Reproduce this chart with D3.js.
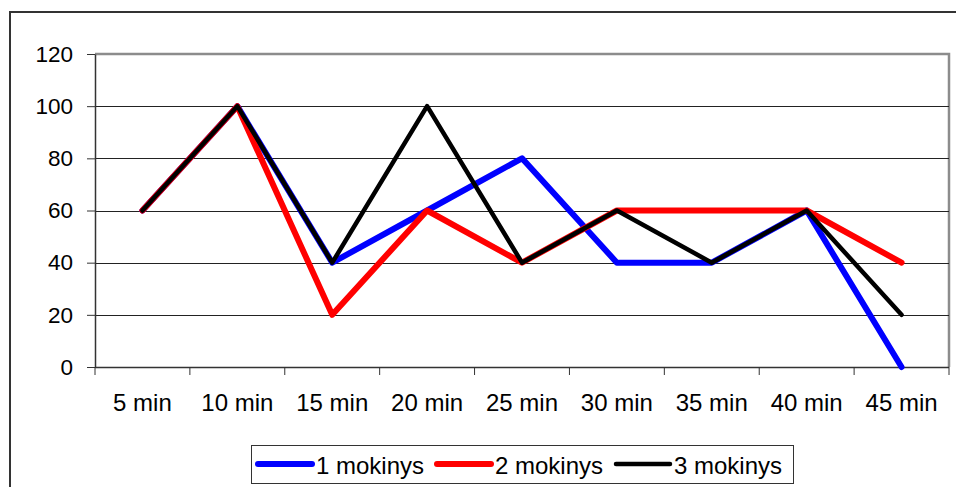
<!DOCTYPE html>
<html>
<head>
<meta charset="utf-8">
<script src="https://cdn.jsdelivr.net/npm/d3@7"></script>
<style>
  html, body { margin: 0; padding: 0; background: #fff; }
  svg { display: block; font-family: "Liberation Sans", Arial, sans-serif; }
</style>
</head>
<body>
<svg id="chart" width="956" height="487"></svg>
<script>
// Categories (time points) and the score of each student
const categories = ["5 min", "10 min", "15 min", "20 min", "25 min", "30 min", "35 min", "40 min", "45 min"];
const student1 = [60, 100, 40, 60, 80, 40, 40, 60, 0];
const student2 = [60, 100, 20, 60, 40, 60, 60, 60, 40];
const student3 = [60, 100, 40, 100, 40, 60, 40, 60, 20];
const seriesNames = ["1 mokinys", "2 mokinys", "3 mokinys"];
const yTicks = [0, 20, 40, 60, 80, 100, 120];

const series = [
  { name: seriesNames[0], values: student1, color: "#0000ff", width: 6 },
  { name: seriesNames[1], values: student2, color: "#ff0000", width: 6 },
  { name: seriesNames[2], values: student3, color: "#000000", width: 4.5 }
];

const svg = d3.select("#chart");
const plot = { left: 95, right: 949, top: 54, bottom: 367 };

// Outer chart frame (runs off the right and bottom edges)
svg.append("rect")
  .attr("x", 10).attr("y", 12)
  .attr("width", 1000).attr("height", 600)
  .attr("fill", "none").attr("stroke", "#333").attr("stroke-width", 2);

const x = d3.scaleBand().domain(categories).range([plot.left, plot.right]).padding(0);
const y = d3.scaleLinear().domain([0, 120]).range([plot.bottom, plot.top]);

// Plot area border (grey on top and right)
svg.append("path")
  .attr("d", `M${plot.left},${plot.top}H${plot.right}V${plot.bottom}`)
  .attr("fill", "none").attr("stroke", "#8c8c8c").attr("stroke-width", 2.5);

// Horizontal gridlines
svg.append("g").selectAll("line")
  .data(yTicks.filter(v => v > 0 && v < 120))
  .join("line")
  .attr("x1", plot.left).attr("x2", plot.right)
  .attr("y1", d => Math.round(y(d)) + 0.5).attr("y2", d => Math.round(y(d)) + 0.5)
  .attr("stroke", "#222").attr("stroke-width", 1);

// Y axis
const yAxis = svg.append("g")
  .attr("transform", `translate(${plot.left},0)`)
  .call(d3.axisLeft(y).tickValues(yTicks).tickSize(8).tickPadding(14).tickSizeOuter(0));
yAxis.select(".domain").attr("stroke", "#333").attr("stroke-width", 1.5);
yAxis.selectAll(".tick line").attr("stroke", "#333");
yAxis.selectAll("text").attr("font-size", 22.5).attr("fill", "#000")
  .attr("font-family", "Liberation Sans, Arial, sans-serif");

// X axis with ticks at category boundaries
const xAxisG = svg.append("g").attr("transform", `translate(0,${plot.bottom})`);
xAxisG.append("line")
  .attr("x1", plot.left).attr("x2", plot.right)
  .attr("y1", 0.5).attr("y2", 0.5)
  .attr("stroke", "#333").attr("stroke-width", 1.5);
const boundaries = categories.map(c => x(c)).concat([x(categories[categories.length - 1]) + x.bandwidth()]);
xAxisG.selectAll("line.tk").data(boundaries).join("line")
  .attr("class", "tk")
  .attr("x1", d => d).attr("x2", d => d)
  .attr("y1", 0).attr("y2", 8)
  .attr("stroke", "#333").attr("stroke-width", 1);
xAxisG.selectAll("text").data(categories).join("text")
  .attr("x", d => x(d) + x.bandwidth() / 2)
  .attr("y", 44)
  .attr("text-anchor", "middle")
  .attr("font-size", 24)
  .attr("fill", "#000")
  .text(d => d);

// Series lines
const line = d3.line()
  .x((d, i) => x(categories[i]) + x.bandwidth() / 2)
  .y(d => y(d));

svg.append("g").selectAll("path")
  .data(series)
  .join("path")
  .attr("d", d => line(d.values))
  .attr("fill", "none")
  .attr("stroke", d => d.color)
  .attr("stroke-width", d => d.width)
  .attr("stroke-linejoin", "round")
  .attr("stroke-linecap", "round");

// Legend
const legend = svg.append("g");
legend.append("rect")
  .attr("x", 251.5).attr("y", 445.5)
  .attr("width", 542).attr("height", 38)
  .attr("fill", "#fff").attr("stroke", "#333").attr("stroke-width", 1);

const entry = legend.selectAll("g.entry").data(series).join("g")
  .attr("class", "entry")
  .attr("transform", (d, i) => `translate(${258 + i * 179},464)`);
entry.append("line")
  .attr("x1", 0).attr("x2", 54)
  .attr("y1", 0).attr("y2", 0)
  .attr("stroke", d => d.color)
  .attr("stroke-width", d => d.width)
  .attr("stroke-linecap", "round");
entry.append("text")
  .attr("x", 58).attr("y", 10)
  .attr("font-size", 24)
  .attr("fill", "#000")
  .text(d => d.name);
</script>
</body>
</html>
